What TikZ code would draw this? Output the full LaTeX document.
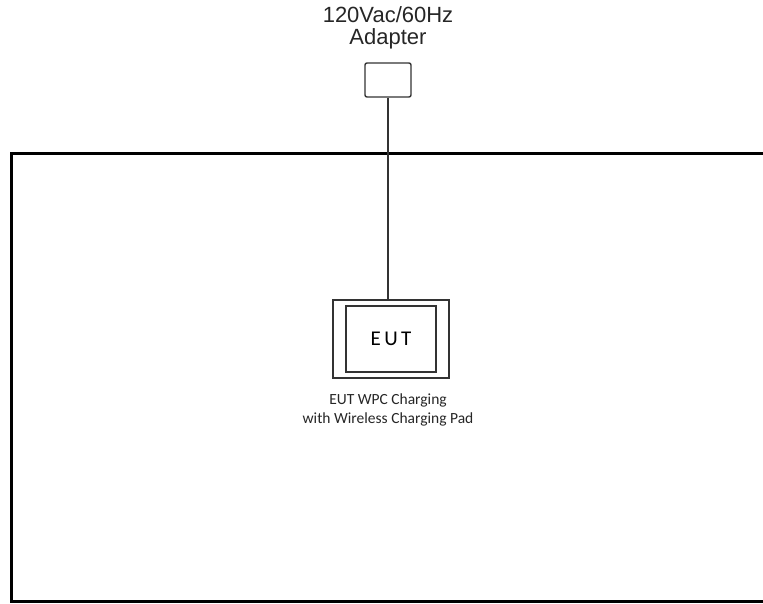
\documentclass[tikz,border=0pt]{standalone}
\usepackage{fontspec}
\setmainfont{Liberation Sans}
\newfontfamily\calfont{Carlito}
\usepackage{tikz}
\usetikzlibrary{positioning}
\tikzset{
  dev/.style={draw=black!80,line width=1.4pt,inner sep=0pt},
  lbl/.style={font=\fontsize{22}{21.5}\selectfont,align=center,text=black!85},
  eutlbl/.style={font=\calfont\fontsize{15.5}{19.5}\selectfont,align=center,text=black!85},
  wire/.style={draw=black!80,line width=1.4pt},
}

\begin{document}
\begin{tikzpicture}[x=1pt,y=-1pt]
 \useasboundingbox (0,0) rectangle (763,603);
 \begin{scope}
  \clip (0,0) rectangle (763,603);
  \draw[line width=3.5pt] (780,153.5)--(11.5,153.5)--(11.5,601.5)--(780,601.5);
 \end{scope}
 \node[lbl] (adlbl) at (388,28) {120Vac/60Hz\\Adapter};
 \node[dev,rounded corners=2pt,minimum width=46pt,minimum height=34pt] (adapter) at (388,80) {};
 \node[dev,minimum width=116pt,minimum height=78pt] (pad) at (391,339) {};
 \node[dev,minimum width=90pt,minimum height=66pt,font=\calfont\fontsize{21}{24}\selectfont] (eut) at (391,339) {E\,U\,T};
 \node[eutlbl] (eutname) at (388,410) {EUT WPC Charging\\with Wireless Charging Pad};
 \draw[wire] (adapter.south)--(adapter.south |- pad.north);
\end{tikzpicture}
\end{document}
